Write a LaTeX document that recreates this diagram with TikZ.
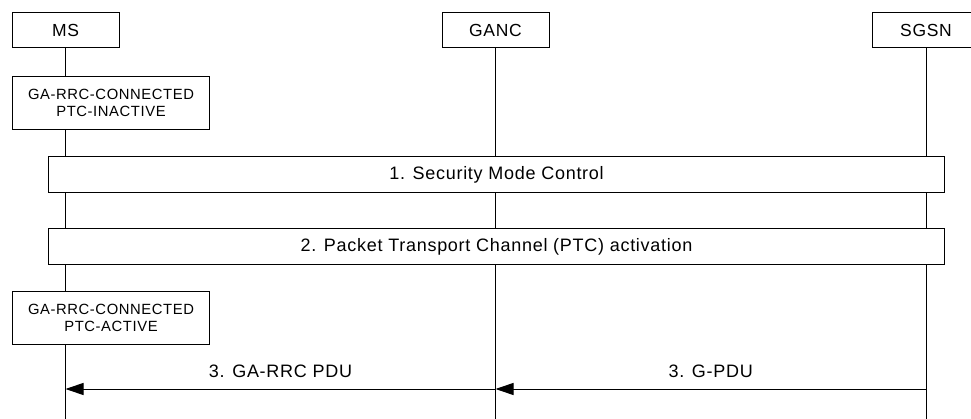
\documentclass[tikz,border=0pt]{standalone}
\usepackage{fontspec}
\setmainfont[LetterSpace=4]{Liberation Sans}
\usetikzlibrary{arrows.meta}
\tikzset{
    entity/.style={
        rectangle,
        draw=black,
        fill=white,
        line width=1pt,
        minimum width=107pt,
        minimum height=35pt,
        font=\fontsize{17.5}{20}\selectfont
    },
    statebox/.style={
        rectangle,
        draw=black,
        fill=white,
        line width=1pt,
        align=center,
        anchor=north west,
        minimum width=197pt,
        minimum height=53pt,
        font=\fontsize{14.8}{17.5}\selectfont
    },
    procbox/.style={
        rectangle,
        draw=black,
        fill=white,
        line width=1pt,
        anchor=north west,
        minimum width=896pt,
        minimum height=36pt,
        font=\fontsize{18}{21}\selectfont
    },
    lifeline/.style={
        line width=1pt
    },
    msg/.style={
        -{Triangle[length=18pt,width=12pt]},
        line width=1pt
    },
    msglabel/.style={
        midway,
        anchor=base,
        yshift=12pt,
        font=\fontsize{18}{21}\selectfont
    }
}

\begin{document}
\begin{tikzpicture}[x=1pt, y=-1pt]
\clip (0,0) rectangle (971,419);

% lifelines
\coordinate (bottom) at (0,419);
\draw[lifeline] (65.5,30.5) coordinate (mstop) -- (mstop |- bottom);
\draw[lifeline] (495.5,30.5) coordinate (ganctop) -- (ganctop |- bottom);
\draw[lifeline] (926,30.5) coordinate (sgsntop) -- (sgsntop |- bottom);

% entities
\node[entity] (ms) at (mstop) {MS};
\node[entity] (ganc) at (ganctop) {GANC};
\node[entity] (sgsn) at (sgsntop) {SGSN};

% states and procedures
\node[statebox] (inactive) at (12,76) {GA-RRC-CONNECTED\\PTC-INACTIVE};
\node[procbox] (security) at (48,156) {1. Security Mode Control};
\node[procbox] (ptc) at (48,228) {2. Packet Transport Channel (PTC) activation};
\node[statebox] (active) at (12,291) {GA-RRC-CONNECTED\\PTC-ACTIVE};

% messages
\coordinate (m3) at (0,389);
\draw[msg] (sgsn |- m3) -- (ganc |- m3) node[msglabel] {3. G-PDU};
\draw[msg] (ganc |- m3) -- (ms |- m3) node[msglabel] {3. GA-RRC PDU};
\end{tikzpicture}
\end{document}
